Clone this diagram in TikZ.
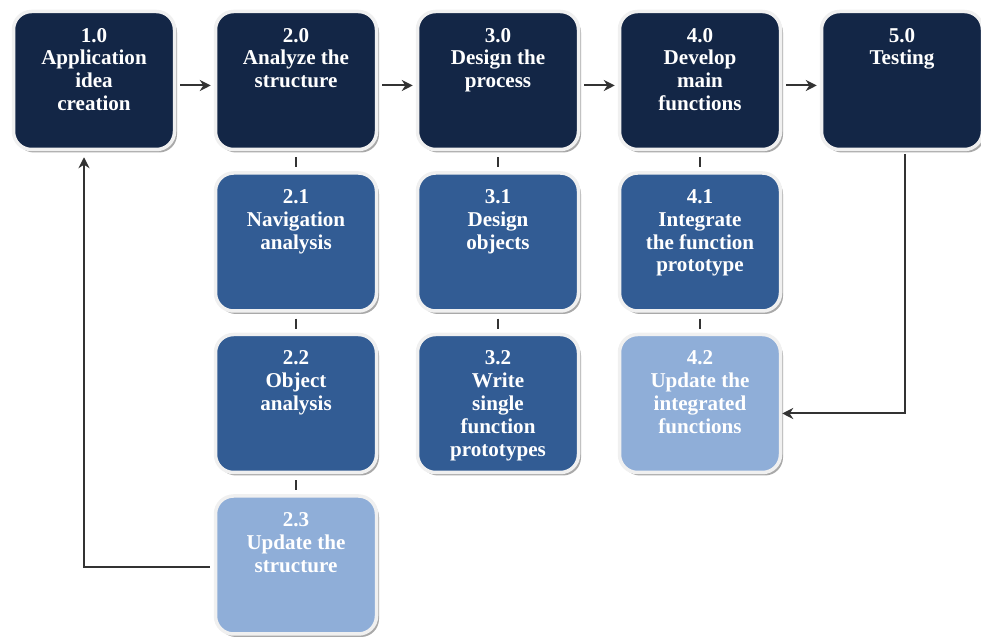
\documentclass[tikz,border=0pt]{standalone}
\usepackage{fontspec}
\setmainfont{Liberation Serif}
\usepackage{tikz}
\usetikzlibrary{arrows.meta,positioning,shadows}

\definecolor{navy}{HTML}{132646}
\definecolor{steel}{HTML}{325C94}
\definecolor{pale}{HTML}{8FAED8}
\definecolor{linkgray}{HTML}{333333}

\newcommand{\tasktext}[1]{\parbox[c][2.1cm][t]{3.1cm}{\centering #1}}

\tikzset{
  task/.style={rectangle, rounded corners=0.36cm, draw=white!88!gray, line width=0.07cm,
    minimum width=3.22cm, minimum height=2.76cm, inner sep=0pt, text=white,
    font=\fontsize{12}{13}\selectfont\bfseries,
    drop shadow={shadow xshift=0.05cm, shadow yshift=-0.06cm, fill=gray!90, opacity=0.75}},
  main/.style={task, fill=navy},
  sub/.style={task, fill=steel},
  upd/.style={task, fill=pale},
  link/.style={draw=linkgray, line width=0.04cm},
  arr/.style={link, -{Stealth[length=0.22cm, width=0.22cm]}},
}

\begin{document}
\begin{tikzpicture}[node distance=3.23cm and 4.04cm, on grid]
  \useasboundingbox (0,0) rectangle (19.62,-12.8);

  % main phases
  \node[main] (n10) at (1.88,-1.61) {\tasktext{1.0\\Application\\idea\\creation}};
  \node[main, right=of n10] (n20) {\tasktext{2.0\\Analyze the\\structure}};
  \node[main, right=of n20] (n30) {\tasktext{3.0\\Design the\\process}};
  \node[main, right=of n30] (n40) {\tasktext{4.0\\Develop\\main\\functions}};
  \node[main, right=of n40] (n50) {\tasktext{5.0\\Testing}};

  % sub tasks
  \node[sub, below=of n20] (n21) {\tasktext{2.1\\Navigation\\analysis}};
  \node[sub, below=of n21] (n22) {\tasktext{2.2\\Object\\analysis}};
  \node[upd, below=of n22] (n23) {\tasktext{2.3\\Update the\\structure}};
  \node[sub, below=of n30] (n31) {\tasktext{3.1\\Design\\objects}};
  \node[sub, below=of n31] (n32) {\tasktext{3.2\\Write\\single\\function\\prototypes}};
  \node[sub, below=of n40] (n41) {\tasktext{4.1\\Integrate\\the function\\prototype}};
  \node[upd, below=of n41] (n42) {\tasktext{4.2\\Update the\\integrated\\functions}};

  % flow between phases
  \foreach \a/\b in {n10/n20, n20/n30, n30/n40, n40/n50}
    \draw[arr, shorten <=0.08cm, shorten >=0.06cm] ([yshift=-0.1cm]\a.east) -- ([yshift=-0.1cm]\b.west);

  % phase to sub task links
  \foreach \a/\b in {n20/n21, n21/n22, n22/n23, n30/n31, n31/n32, n40/n41, n41/n42}
    \draw[link, shorten <=0.12cm, shorten >=0.08cm] (\a.south) -- (\b.north);

  % feedback loops
  \draw[arr, shorten <=0.08cm, shorten >=0.12cm] ([yshift=-0.04cm]n23.west) -| ([xshift=-0.2cm]n10.south);
  \draw[arr, shorten <=0.06cm] ([xshift=0.06cm]n50.south) |- ([yshift=-0.2cm]n42.east);
\end{tikzpicture}
\end{document}
